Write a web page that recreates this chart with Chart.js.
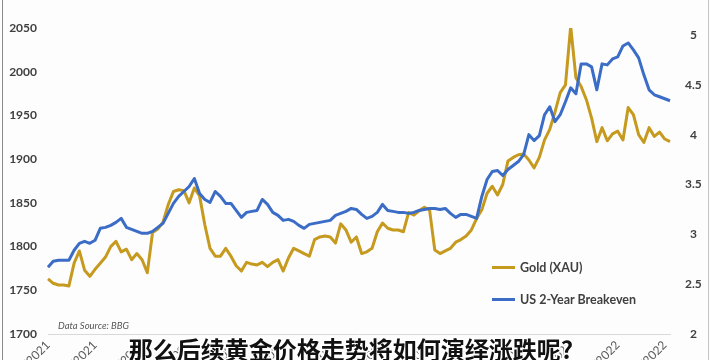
<!DOCTYPE html>
<html>
<head>
<meta charset="utf-8">
<script src="https://cdn.jsdelivr.net/npm/chart.js@4/dist/chart.umd.min.js"></script>
<style>
  html, body { margin: 0; padding: 0; background: #fff; }
  #wrap { position: relative; width: 711px; height: 360px; overflow: hidden; background: #fdfdfd; }
  #cv { position: absolute; left: 0; top: 0; }
  .frameL { position: absolute; left: 2px; top: 0; width: 1px; height: 360px; background: #8a8a8a; }
  .frameR { position: absolute; left: 708px; top: 0; width: 1px; height: 360px; background: #c4c4c4; }
  .leg { position: absolute; font-family: Lato, "Liberation Sans", sans-serif; font-weight: 700; font-size: 12.5px; color: #404040; white-space: nowrap; }
  .legline { position: absolute; height: 3px; width: 23px; }
  .src { position: absolute; left: 58px; top: 320px; font-family: Lato, "Liberation Sans", sans-serif; font-style: italic; font-size: 9.5px; color: #555; }
  .cap { position: absolute; left: 0; width: 702px; text-align: center; top: 334px; font-family: "Noto Sans CJK SC", sans-serif; font-weight: 700; font-size: 24px; line-height: 30px; color: #111; -webkit-text-stroke: 3px #fff; paint-order: stroke fill; letter-spacing: 0px; }
</style>
</head>
<body>
<div id="wrap">
  <canvas id="cv" width="711" height="400" style="width:711px;height:400px"></canvas>
  <div class="frameL"></div>
  <div class="frameR"></div>
  <div class="src">Data Source: BBG</div>
  <div class="legline" style="left:492px;top:266px;background:#C59A1F"></div>
  <div class="leg" style="left:520px;top:260px">Gold (XAU)</div>
  <div class="legline" style="left:492px;top:298px;background:#3B6CC6"></div>
  <div class="leg" style="left:520px;top:292px">US 2-Year Breakeven</div>
  <div class="cap">那么后续黄金价格走势将如何演绎涨跌呢?</div>
</div>
<script>
// Gold price (XAU, USD/oz), left axis
const goldXAU = [
  1763,1758,1756,1756,1755,1781,1795,1773,1766,1774,
  1781,1788,1800,1806,1794,1797,1785,1792,1785,1770,
  1816,1820,1828,1848,1863,1865,1864,1850,1867,1858,
  1825,1798,1789,1789,1798,1789,1778,1772,1782,1780,
  1779,1782,1777,1782,1785,1772,1787,1798,1795,1792,
  1789,1808,1811,1812,1811,1804,1826,1819,1805,1811,
  1792,1794,1798,1817,1827,1821,1819,1819,1817,1839,
  1836,1841,1845,1842,1796,1792,1795,1798,1805,1808,
  1812,1819,1832,1842,1861,1869,1859,1871,1898,1902,
  1905,1906,1899,1890,1902,1922,1934,1954,1976,1985,
  2052,1993,1983,1968,1947,1920,1936,1921,1929,1932,
  1922,1959,1951,1928,1919,1936,1926,1931,1923,1920
];
// US 2-Year Breakeven (%), right axis
const breakeven2Y = [
  2.67,2.73,2.74,2.74,2.74,2.84,2.91,2.93,2.91,2.94,
  3.06,3.07,3.09,3.12,3.16,3.07,3.05,3.03,3.01,3.01,
  3.03,3.07,3.11,3.21,3.31,3.38,3.43,3.48,3.56,3.41,
  3.35,3.32,3.43,3.38,3.31,3.31,3.24,3.17,3.22,3.23,
  3.24,3.35,3.30,3.22,3.19,3.14,3.15,3.13,3.09,3.06,
  3.10,3.11,3.12,3.13,3.14,3.19,3.21,3.23,3.26,3.25,
  3.20,3.16,3.18,3.22,3.30,3.24,3.23,3.22,3.22,3.21,
  3.22,3.24,3.25,3.26,3.26,3.25,3.26,3.21,3.17,3.20,
  3.20,3.18,3.16,3.38,3.55,3.63,3.64,3.59,3.65,3.69,
  3.73,3.80,4.00,3.94,3.99,4.20,4.28,4.13,4.20,4.33,
  4.47,4.41,4.71,4.71,4.68,4.45,4.71,4.70,4.76,4.78,
  4.89,4.92,4.85,4.77,4.60,4.45,4.40,4.38,4.36,4.34
];
// x-axis: label shown at these point indices
const tickIndex = [0, 9, 18, 27, 36, 45, 55, 64, 73, 82, 91, 100, 109, 118];
const tickLabels = ['10/4/2021','10/18/2021','11/1/2021','11/15/2021','11/29/2021','12/13/2021','12/27/2021',
                    '1/10/2022','1/24/2022','2/7/2022','2/21/2022','3/7/2022','3/21/2022','4/4/2022'];
const leftTicks = [1700, 1750, 1800, 1850, 1900, 1950, 2000, 2050];
const rightTicks = [2, 2.5, 3, 3.5, 4, 4.5, 5];

const categories = goldXAU.map((_, i) => i);

const tickFont = { family: 'Lato, "Liberation Sans", sans-serif', size: 12, weight: 'bold' };

new Chart(document.getElementById('cv'), {
  type: 'line',
  data: {
    labels: categories,
    datasets: [
      { label: 'US 2-Year Breakeven', data: breakeven2Y, yAxisID: 'yR', borderColor: '#3B6CC6', borderWidth: 3, pointRadius: 0, tension: 0, borderJoinStyle: 'round' },
      { label: 'Gold (XAU)', data: goldXAU, yAxisID: 'yL', borderColor: '#C59A1F', borderWidth: 3, pointRadius: 0, tension: 0, borderJoinStyle: 'round' }
    ]
  },
  options: {
    responsive: false,
    animation: false,
    events: [],
    layout: { padding: { top: 28, left: 0, right: 0, bottom: 0 } },
    plugins: { legend: { display: false }, tooltip: { enabled: false } },
    scales: {
      x: {
        type: 'category',
        offset: false,
        grid: { display: false, drawTicks: false },
        border: { display: true, color: '#d9d9d9', width: 1 },
        ticks: {
          autoSkip: false, maxRotation: 45, minRotation: 45, padding: 4,
          color: '#595959', font: { family: 'Lato, "Liberation Sans", sans-serif', size: 12 },
          callback: function (v, i) { const k = tickIndex.indexOf(i); return k >= 0 ? tickLabels[k] : ''; }
        },
        afterFit: s => { s.height = 66; }
      },
      yL: {
        position: 'left', min: 1700, max: 2050,
        grid: { display: false, drawTicks: false },
        border: { display: false },
        ticks: { padding: 11, color: '#404040', font: tickFont, callback: v => String(v) },
        afterBuildTicks: s => { s.ticks = leftTicks.map(v => ({ value: v })); },
        afterFit: s => { s.width = 48; }
      },
      yR: {
        position: 'right', min: 2, max: 5.07,
        grid: { display: false, drawTicks: false },
        border: { display: false },
        ticks: { padding: 15, crossAlign: 'center', color: '#404040', font: tickFont, callback: v => String(v) },
        afterBuildTicks: s => { s.ticks = rightTicks.map(v => ({ value: v })); },
        afterFit: s => { s.width = 41; }
      }
    }
  }
});
</script>
</body>
</html>
